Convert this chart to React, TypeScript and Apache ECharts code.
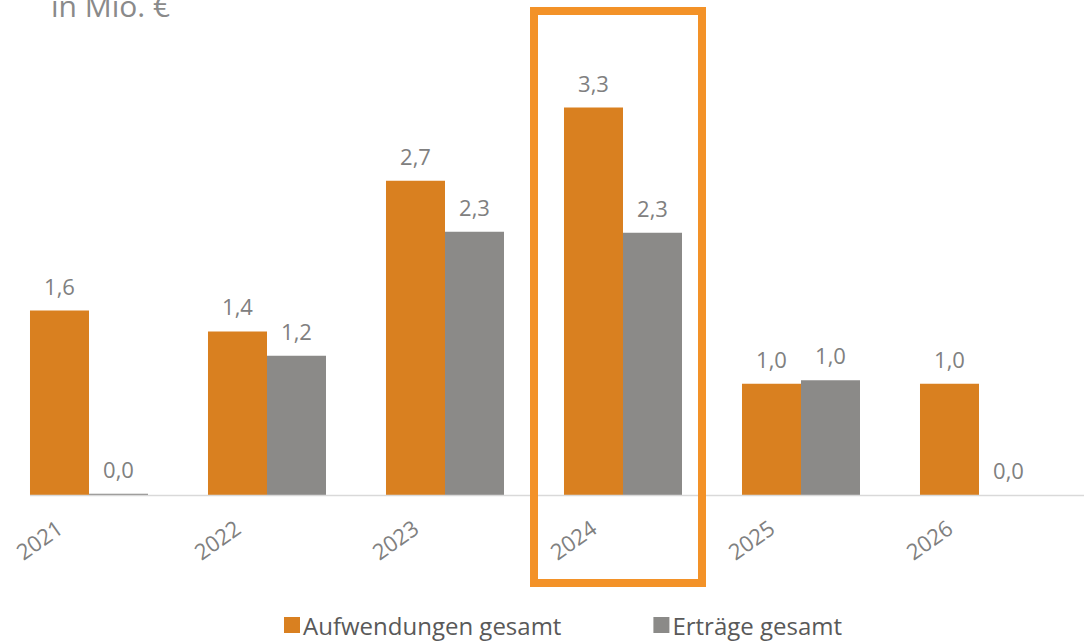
import React, { useEffect, useRef } from "react";
import * as echarts from "echarts";

const categories = ["2021", "2022", "2023", "2024", "2025", "2026"];
const aufwendungen = [1.59, 1.41, 2.71, 3.34, 0.96, 0.96];
const ertraege = [0.01, 1.2, 2.27, 2.26, 0.99, 0.0];
const seriesNames = ["Aufwendungen gesamt", "Erträge gesamt"];
const unitTitle = "in Mio. €";

const ORANGE = "#D98020";
const GRAY = "#8B8A88";
const FONT = "'Open Sans', 'Noto Sans', sans-serif";

const fmt = (v: number) => v.toFixed(1).replace(".", ",");

export default function App() {
  const ref = useRef<HTMLDivElement>(null);
  useEffect(() => {
    if (!ref.current) return;
    const chart = echarts.init(ref.current, undefined, { renderer: "svg" });
    const label = {
      show: true,
      position: "top",
      distance: 14,
      color: "#808080",
      fontSize: 22,
      fontWeight: "normal",
      fontFamily: FONT,
      formatter: (p: any) => fmt(p.value),
    };
    chart.setOption({
      animation: false,
      backgroundColor: "#ffffff",
      title: {
        text: unitTitle,
        left: 46,
        top: -15,
        textStyle: { color: "#8A8A8A", fontSize: 30, fontWeight: "normal", fontFamily: FONT, lineHeight: 30 },
      },
      legend: {
        left: 279,
        top: 608,
        itemWidth: 16,
        itemHeight: 16,
        itemGap: 92,
        icon: "rect",
        textStyle: { color: "#595959", fontSize: 24, fontWeight: "normal", fontFamily: FONT, padding: [0, 0, 0, -2] },
        data: seriesNames,
      },
      grid: { left: 0, right: 16, top: 31, bottom: 146, containLabel: false },
      xAxis: {
        type: "category",
        data: categories,
        axisLine: { show: false },
        axisTick: { show: false },
        axisLabel: {
          rotate: 35,
          margin: 9,
          padding: [0, 36, 0, 0],
          color: "#808080",
          fontSize: 22,
          fontWeight: "normal",
          fontFamily: FONT,
        },
      },
      yAxis: { type: "value", min: 0, max: 4, show: false, splitLine: { show: false } },
      graphic: [
        {
          type: "line",
          shape: { x1: 30, y1: 495.5, x2: 1084, y2: 495.5 },
          style: { stroke: "#D9D9D9", lineWidth: 1.5 },
          z: 10,
        },
        {
          type: "rect",
          shape: { x: 534, y: 11, width: 168, height: 572 },
          style: { fill: "none", stroke: "#F39228", lineWidth: 8 },
          z: 20,
        },
      ],
      series: [
        {
          name: seriesNames[0],
          type: "bar",
          data: aufwendungen,
          itemStyle: { color: ORANGE },
          barGap: "0%",
          barCategoryGap: "33.7%",
          label,
        },
        {
          name: seriesNames[1],
          type: "bar",
          data: ertraege,
          itemStyle: { color: GRAY },
          barGap: "0%",
          barCategoryGap: "33.7%",
          label,
        },
      ],
    });
    return () => chart.dispose();
  }, []);
  return <div ref={ref} style={{ width: 1084, height: 641, position: "absolute", left: 0, top: 0 }} />;
}
